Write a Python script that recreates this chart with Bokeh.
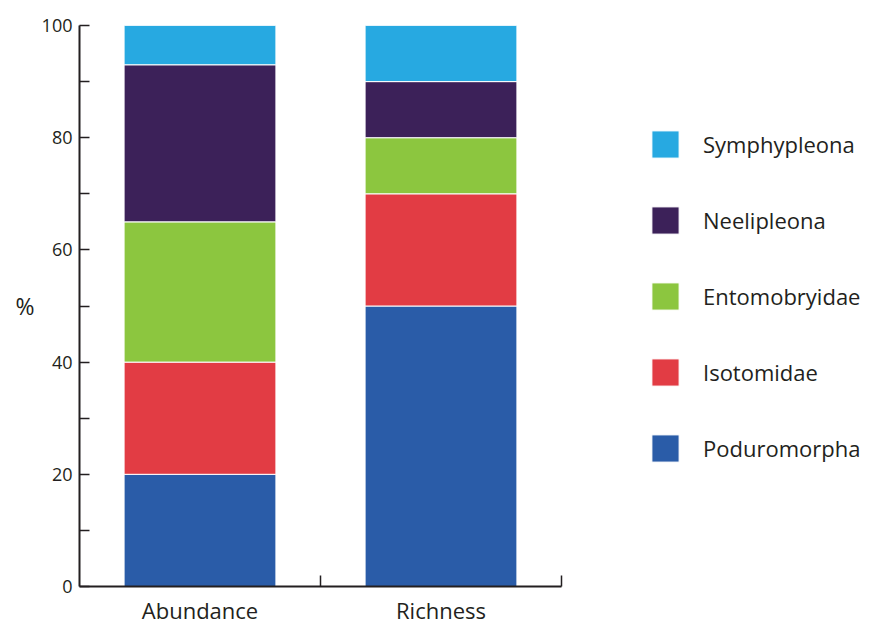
from bokeh.plotting import figure
from bokeh.models import Range1d, FixedTicker, Legend, LegendItem, ColumnDataSource
from bokeh.embed import file_html
from bokeh.resources import INLINE

categories = ["Abundance", "Richness"]
series = ["Poduromorpha", "Isotomidae", "Entomobryidae", "Neelipleona", "Symphypleona"]
poduromorpha = [20, 50]
isotomidae = [20, 20]
entomobryidae = [25, 10]
neelipleona = [28, 10]
symphypleona = [7, 10]
colors = ["#2a5ca8", "#e23c44", "#8cc63f", "#3c2159", "#27a9e1"]
y_ticks = [0, 20, 40, 60, 80, 100]
y_minor = [10, 30, 50, 70, 90]

FONT = "Open Sans"
TXT = "#231f20"

W, H = 881, 627
LEFT, AXIS_RIGHT, TOP, BOTTOM = 79, 561, 25, 586
ncat = len(categories)
x_end = ncat * (W - LEFT) / (AXIS_RIGHT - LEFT)

xpos = [i + 0.5 for i in range(ncat)]
src = ColumnDataSource(dict(x=xpos, Poduromorpha=poduromorpha, Isotomidae=isotomidae,
                            Entomobryidae=entomobryidae, Neelipleona=neelipleona,
                            Symphypleona=symphypleona))

p = figure(width=W, height=H, output_backend="svg", toolbar_location=None,
           x_range=Range1d(0, x_end), y_range=Range1d(0, 100),
           min_border_left=LEFT, min_border_right=0, min_border_top=TOP,
           min_border_bottom=H - BOTTOM)
p.outline_line_color = None
p.grid.visible = False
p.background_fill_color = "white"
p.border_fill_color = "white"

rs = p.vbar_stack(series, x="x", width=0.63, source=src, color=colors,
                  line_color="white", line_width=1)

# axes
p.xaxis.bounds = (0, ncat)
p.xaxis.ticker = FixedTicker(ticks=xpos, minor_ticks=list(range(1, ncat + 1)))
p.xaxis.major_label_overrides = {x: c for x, c in zip(xpos, categories)}
p.xaxis.major_tick_in = 0
p.xaxis.major_tick_out = 0
p.xaxis.minor_tick_in = 11
p.xaxis.minor_tick_out = 0
p.xaxis.minor_tick_line_color = TXT
p.xaxis.minor_tick_line_width = 1.5
p.xaxis.major_label_standoff = 8
p.xaxis.major_label_text_font_size = "22px"

p.yaxis.ticker = FixedTicker(ticks=y_ticks, minor_ticks=y_minor)
p.yaxis.major_tick_in = 10
p.yaxis.major_tick_out = 0
p.yaxis.minor_tick_in = 10
p.yaxis.minor_tick_out = 0
p.yaxis.major_tick_line_width = 1.5
p.yaxis.minor_tick_line_width = 1.5
p.yaxis.major_tick_line_color = TXT
p.yaxis.minor_tick_line_color = TXT
p.yaxis.major_label_standoff = 7
p.yaxis.major_label_text_font_size = "18px"
p.yaxis.axis_label = "%"
p.yaxis.axis_label_standoff = 4
try:
    p.yaxis.axis_label_orientation = "horizontal"
except Exception:
    pass

for ax in (p.xaxis, p.yaxis):
    ax.axis_line_color = TXT
    ax.axis_line_width = 2
    ax.major_label_text_font = FONT
    ax.major_label_text_color = TXT
    ax.axis_label_text_font = FONT
    ax.axis_label_text_font_size = "23px"
    ax.axis_label_text_font_style = "normal"
    ax.axis_label_text_color = TXT

items = [LegendItem(label=s, renderers=[r]) for s, r in zip(series, rs)]
items.reverse()
legend = Legend(items=items, location=(648 - LEFT, BOTTOM - 465), orientation="vertical",
                glyph_width=34, glyph_height=34, spacing=42, label_standoff=21,
                label_text_font=FONT, label_text_font_size="22px", label_text_color=TXT,
                padding=0, margin=0, border_line_color=None, background_fill_alpha=0)
p.add_layout(legend, "center")

open("out.html", "w").write(file_html(p, INLINE))
